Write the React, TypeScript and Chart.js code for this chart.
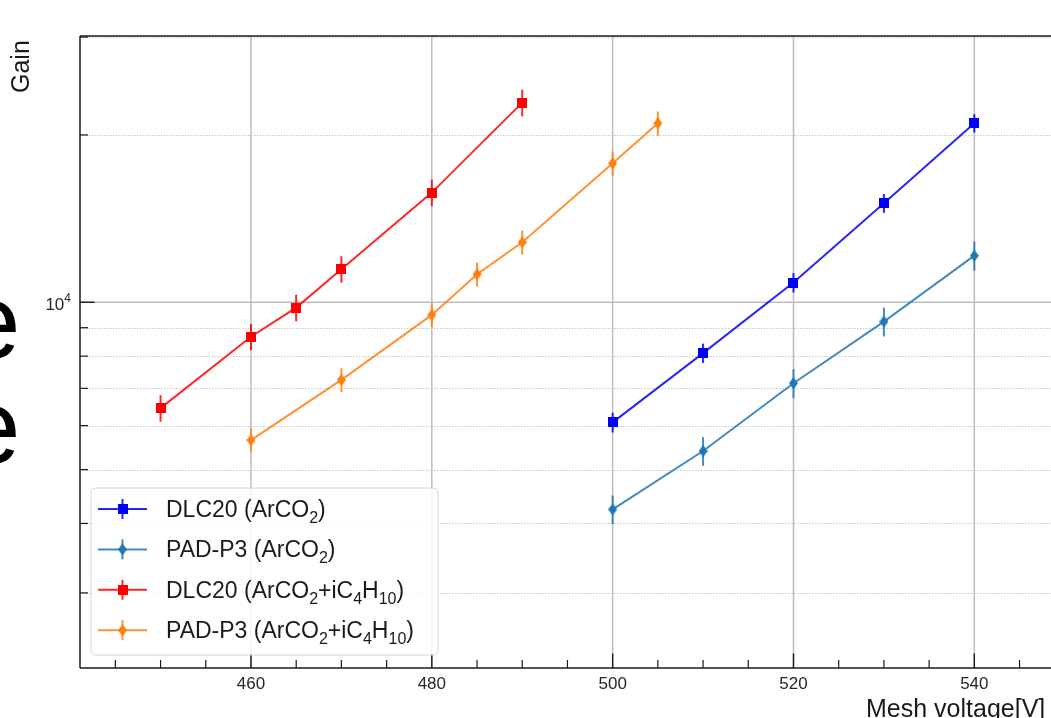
import React, { useEffect, useRef } from 'react';
import { Chart, registerables } from 'chart.js';

Chart.register(...registerables);

// ---------------- data ----------------
const seriesNames = [
  'DLC20 (ArCO_2)',
  'PAD-P3 (ArCO_2)',
  'DLC20 (ArCO_2+iC_4H_{10})',
  'PAD-P3 (ArCO_2+iC_4H_{10})',
];

const voltDlcAr = [500, 510, 520, 530, 540];
const gainDlcAr = [6080, 8100, 10850, 15070, 20990];
const errDlcAr = [250, 325, 435, 590, 800];

const voltPadAr = [500, 510, 520, 530, 540];
const gainPadAr = [4240, 5400, 7150, 9230, 12130];
const errPadAr = [250, 320, 430, 550, 730];

const voltDlcIso = [450, 460, 465, 470, 480, 490];
const gainDlcIso = [6450, 8670, 9780, 11470, 15750, 22860];
const errDlcIso = [355, 475, 540, 630, 865, 1260];

const voltPadIso = [460, 470, 480, 485, 490, 500, 505];
const gainPadIso = [5650, 7250, 9490, 11230, 12820, 17780, 20990];
const errPadIso = [280, 360, 470, 560, 640, 890, 1050];

const xMajorTicks = [460, 480, 500, 520, 540];
const xTickLabels = ['460', '480', '500', '520', '540'];
const xMinorTicks = [445, 450, 455, 465, 470, 475, 485, 490, 495, 505, 510, 515, 525, 530, 535, 545];
const yMajorTicks = [10000];
const yTickBase = ['10'];
const yTickExp = ['4'];
const yMinorTicks = [3000, 4000, 5000, 6000, 7000, 8000, 9000, 20000, 30000];

const xTitle = 'Mesh voltage[V]';
const yTitle = 'Gain';
const edgeGlyphs = ['e', 'e'];

const X_MIN = 441.09;
const X_MAX = 548.48;
const Y_MIN = 2198;
const Y_MAX = 30130;

// ---------------- styles ----------------
const seriesVolts = [voltDlcAr, voltPadAr, voltDlcIso, voltPadIso];
const seriesGains = [gainDlcAr, gainPadAr, gainDlcIso, gainPadIso];
const seriesErrors = [errDlcAr, errPadAr, errDlcIso, errPadIso];
const seriesMarkerKinds = ['square', 'diamond', 'square', 'diamond'];
const seriesMarkerColors = ['#0000ff', '#1f77b4', '#ff0000', '#ff7f0e'];
const seriesLineColors = [
  'rgba(0,0,255,0.85)',
  'rgba(31,119,180,0.85)',
  'rgba(255,0,0,0.85)',
  'rgba(255,127,14,0.85)',
];

const FONT = '"Liberation Sans", Arial, Helvetica, sans-serif';

function makeMarker(kind: string, color: string): HTMLCanvasElement {
  const c = document.createElement('canvas');
  const ctx = c.getContext('2d')!;
  if (kind === 'square') {
    c.width = 10;
    c.height = 10;
    ctx.fillStyle = color;
    ctx.fillRect(0, 0, 10, 10);
  } else {
    c.width = 9;
    c.height = 12;
    ctx.fillStyle = color;
    ctx.beginPath();
    ctx.moveTo(4.5, 0);
    ctx.lineTo(9, 6);
    ctx.lineTo(4.5, 12);
    ctx.lineTo(0, 6);
    ctx.closePath();
    ctx.fill();
  }
  return c;
}

function parseLabel(s: string) {
  const out: { t: string; sub: boolean }[] = [];
  let i = 0;
  let buf = '';
  while (i < s.length) {
    if (s[i] === '_') {
      if (buf) {
        out.push({ t: buf, sub: false });
        buf = '';
      }
      if (s[i + 1] === '{') {
        const j = s.indexOf('}', i);
        out.push({ t: s.slice(i + 2, j), sub: true });
        i = j + 1;
      } else {
        out.push({ t: s[i + 1], sub: true });
        i += 2;
      }
    } else {
      buf += s[i];
      i++;
    }
  }
  if (buf) out.push({ t: buf, sub: false });
  return out;
}

function line(ctx: CanvasRenderingContext2D, x1: number, y1: number, x2: number, y2: number) {
  ctx.beginPath();
  ctx.moveTo(x1, y1);
  ctx.lineTo(x2, y2);
  ctx.stroke();
}

function makePlugin(markers: HTMLCanvasElement[]) {
  return {
    id: 'mplStyle',
    beforeDatasetsDraw(chart: any) {
      const { ctx, chartArea: a } = chart;
      const xs = chart.scales.x;
      const ys = chart.scales.y;
      ctx.save();
      // minor horizontal dotted grid
      ctx.strokeStyle = '#c6c6c6';
      ctx.lineWidth = 1;
      ctx.setLineDash([1.5, 1.5]);
      for (const v of yMinorTicks) {
        const py = Math.round(ys.getPixelForValue(v)) + 0.5;
        line(ctx, a.left, py, a.right, py);
      }
      ctx.setLineDash([]);
      // major grid
      ctx.strokeStyle = '#bdbdbd';
      ctx.lineWidth = 1.5;
      for (const v of xMajorTicks) {
        const px = xs.getPixelForValue(v);
        line(ctx, px, a.top, px, a.bottom);
      }
      for (const v of yMajorTicks) {
        const py = ys.getPixelForValue(v);
        line(ctx, a.left, py, a.right, py);
      }
      // error bars
      ctx.lineWidth = 2;
      seriesVolts.forEach((vs, i) => {
        ctx.strokeStyle = seriesLineColors[i];
        vs.forEach((v, j) => {
          const px = xs.getPixelForValue(v);
          const g = seriesGains[i][j];
          const e = seriesErrors[i][j];
          line(ctx, px, ys.getPixelForValue(g - e), px, ys.getPixelForValue(g + e));
        });
      });
      ctx.restore();
    },
    afterDraw(chart: any) {
      const { ctx, chartArea: a } = chart;
      const xs = chart.scales.x;
      const ys = chart.scales.y;
      ctx.save();
      // frame
      ctx.strokeStyle = '#1a1a1a';
      ctx.lineWidth = 1.5;
      line(ctx, a.left, a.top, a.right, a.top);
      line(ctx, a.left, a.bottom, a.right, a.bottom);
      line(ctx, a.left, a.top, a.left, a.bottom);
      // ticks (inward)
      ctx.lineWidth = 1.4;
      for (const v of xMajorTicks) {
        const px = xs.getPixelForValue(v);
        line(ctx, px, a.bottom, px, a.bottom - 14.5);
      }
      ctx.lineWidth = 1.2;
      for (const v of xMinorTicks) {
        const px = xs.getPixelForValue(v);
        line(ctx, px, a.bottom, px, a.bottom - 8);
      }
      ctx.lineWidth = 1.4;
      for (const v of yMajorTicks) {
        const py = ys.getPixelForValue(v);
        line(ctx, a.left, py, a.left + 14.5, py);
      }
      ctx.lineWidth = 1.2;
      for (const v of yMinorTicks) {
        const py = ys.getPixelForValue(v);
        line(ctx, a.left, py, a.left + 8, py);
      }
      // tick labels
      ctx.fillStyle = '#262626';
      ctx.font = `17px ${FONT}`;
      ctx.textAlign = 'center';
      ctx.textBaseline = 'alphabetic';
      xMajorTicks.forEach((v, i) => {
        ctx.fillText(xTickLabels[i], xs.getPixelForValue(v), a.bottom + 20.5);
      });
      yMajorTicks.forEach((v, i) => {
        const py = ys.getPixelForValue(v);
        ctx.font = `12px ${FONT}`;
        ctx.textAlign = 'right';
        const ew = ctx.measureText(yTickExp[i]).width;
        const right = a.left - 9;
        ctx.fillText(yTickExp[i], right, py - 0.5);
        ctx.font = `17px ${FONT}`;
        ctx.fillText(yTickBase[i], right - ew, py + 8);
      });
      // axis titles
      ctx.fillStyle = '#1a1a1a';
      ctx.font = `25px ${FONT}`;
      ctx.textAlign = 'left';
      ctx.fillText(xTitle, 866, 717);
      ctx.save();
      ctx.translate(29, 93);
      ctx.rotate(-Math.PI / 2);
      ctx.fillText(yTitle, 0, 0);
      ctx.restore();
      // large clipped glyphs at the left edge
      ctx.fillStyle = '#000';
      ctx.font = `105px ${FONT}`;
      ctx.fillText(edgeGlyphs[0], -38, 358);
      ctx.fillText(edgeGlyphs[1], -38, 463);

      // legend
      const lx = 91, ly = 488, lw = 347, lh = 167, r = 5;
      ctx.beginPath();
      ctx.moveTo(lx + r, ly);
      ctx.lineTo(lx + lw - r, ly);
      ctx.quadraticCurveTo(lx + lw, ly, lx + lw, ly + r);
      ctx.lineTo(lx + lw, ly + lh - r);
      ctx.quadraticCurveTo(lx + lw, ly + lh, lx + lw - r, ly + lh);
      ctx.lineTo(lx + r, ly + lh);
      ctx.quadraticCurveTo(lx, ly + lh, lx, ly + lh - r);
      ctx.lineTo(lx, ly + r);
      ctx.quadraticCurveTo(lx, ly, lx + r, ly);
      ctx.closePath();
      ctx.fillStyle = 'rgba(255,255,255,0.8)';
      ctx.fill();
      ctx.strokeStyle = '#d4d4d4';
      ctx.lineWidth = 1;
      ctx.stroke();

      seriesNames.forEach((name, i) => {
        const cy = 509 + i * 40.4;
        ctx.strokeStyle = seriesLineColors[i];
        ctx.lineWidth = 2;
        line(ctx, 98, cy, 147, cy);
        line(ctx, 122.5, cy - 10, 122.5, cy + 10);
        const m = markers[i];
        ctx.drawImage(m, 122.5 - m.width / 2, cy - m.height / 2);
        let tx = 166;
        ctx.fillStyle = '#1a1a1a';
        ctx.textAlign = 'left';
        for (const seg of parseLabel(name)) {
          if (seg.sub) {
            ctx.font = `16px ${FONT}`;
            ctx.fillText(seg.t, tx, cy + 14);
          } else {
            ctx.font = `23px ${FONT}`;
            ctx.fillText(seg.t, tx, cy + 8);
          }
          tx += ctx.measureText(seg.t).width;
        }
      });
      ctx.restore();
    },
  };
}

export default function App() {
  const ref = useRef<HTMLCanvasElement>(null);
  useEffect(() => {
    const canvas = ref.current!;
    const markers = seriesMarkerKinds.map((k, i) => makeMarker(k, seriesMarkerColors[i]));
    const datasets = seriesVolts.map((vs, i) => ({
      label: seriesNames[i],
      data: vs.map((v, j) => ({ x: v, y: seriesGains[i][j] })),
      borderColor: seriesLineColors[i],
      backgroundColor: seriesMarkerColors[i],
      borderWidth: 2,
      pointStyle: markers[i] as any,
      pointRadius: 5,
      pointHoverRadius: 5,
      tension: 0,
      fill: false,
    }));
    const chart = new Chart(canvas, {
      type: 'line',
      data: { datasets } as any,
      options: {
        animation: false,
        responsive: false,
        devicePixelRatio: 1,
        events: [],
        layout: { autoPadding: false, padding: { left: 0, top: 36, right: 0, bottom: 0 } },
        plugins: {
          legend: { display: false },
          tooltip: { enabled: false },
          title: { display: false },
        },
        scales: {
          x: {
            type: 'linear',
            min: X_MIN,
            max: X_MAX,
            bounds: 'data',
            grid: { display: false },
            border: { display: false },
            ticks: { display: false },
            afterFit: (s: any) => {
              s.height = 50;
            },
          },
          y: {
            type: 'logarithmic',
            min: Y_MIN,
            max: Y_MAX,
            bounds: 'data',
            grid: { display: false },
            border: { display: false },
            ticks: { display: false },
            afterFit: (s: any) => {
              s.width = 80;
            },
          },
        },
      } as any,
      plugins: [makePlugin(markers)],
    });
    return () => chart.destroy();
  }, []);
  return (
    <div style={{ position: 'fixed', left: 0, top: 0, width: 1051, height: 718, background: '#fff', overflow: 'hidden' }}>
      <canvas ref={ref} width={1051} height={718} style={{ display: 'block' }} />
    </div>
  );
}
